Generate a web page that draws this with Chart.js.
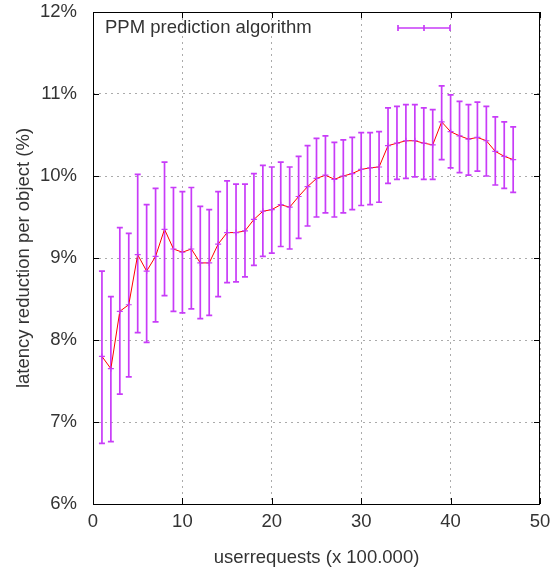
<!DOCTYPE html>
<html>
<head>
<meta charset="utf-8">
<script src="https://cdn.jsdelivr.net/npm/chart.js@4/dist/chart.umd.min.js"></script>
<style>
 html,body{margin:0;padding:0;background:#fff}
 #wrap{width:552px;height:576px}
</style>
</head>
<body>
<div id="wrap"><canvas id="c" width="552" height="576"></canvas></div>
<script>
// userrequests (x 100.000)
const requests=[1,2,3,4,5,6,7,8,9,10,11,12,13,14,15,16,17,18,19,20,21,22,23,24,25,26,27,28,29,30,31,32,33,34,35,36,37,38,39,40,41,42,43,44,45,46,47];
// mean latency reduction (%)
const reduction=[7.80,7.65,8.35,8.43,9.04,8.84,9.02,9.35,9.11,9.07,9.11,8.94,8.94,9.17,9.31,9.31,9.33,9.47,9.57,9.59,9.65,9.62,9.75,9.87,9.97,10.01,9.96,10.00,10.03,10.08,10.10,10.11,10.37,10.40,10.43,10.43,10.40,10.38,10.66,10.54,10.49,10.45,10.47,10.43,10.30,10.24,10.20];
const errLow=[6.74,6.76,7.34,7.55,8.09,7.97,8.22,8.54,8.35,8.33,8.38,8.26,8.30,8.53,8.70,8.71,8.77,8.91,9.02,9.06,9.14,9.11,9.24,9.39,9.50,9.55,9.50,9.55,9.59,9.64,9.65,9.68,9.91,9.96,9.97,9.99,9.96,9.96,10.20,10.10,10.04,10.01,10.06,10.00,9.89,9.85,9.80];
const errHigh=[8.84,8.53,9.37,9.30,10.02,9.65,9.85,10.17,9.86,9.81,9.86,9.63,9.59,9.81,9.94,9.90,9.90,10.03,10.13,10.11,10.17,10.11,10.24,10.37,10.46,10.49,10.41,10.44,10.47,10.53,10.53,10.54,10.83,10.85,10.87,10.87,10.83,10.81,11.10,10.99,10.91,10.87,10.90,10.85,10.72,10.66,10.60];
const yTicks=[6,7,8,9,10,11,12];
const xTicks=[0,10,20,30,40,50];
const seriesName='PPM prediction algorithm';

const FONT='"Liberation Sans", Arial, sans-serif';
const FS=18.5;
const TXT='#333';
const BAR='#c83cf8';

const errorBars={
 id:'errorBars',
 beforeDatasetsDraw(chart){
  const {ctx,scales:{x,y}}=chart;
  ctx.save();ctx.strokeStyle=BAR;ctx.lineWidth=1.7;
  requests.forEach((r,i)=>{
   const px=x.getPixelForValue(r),lo=y.getPixelForValue(errLow[i]),hi=y.getPixelForValue(errHigh[i]);
   ctx.beginPath();
   ctx.moveTo(px,lo);ctx.lineTo(px,hi);
   ctx.moveTo(px-3,lo);ctx.lineTo(px+3,lo);
   ctx.moveTo(px-3,hi);ctx.lineTo(px+3,hi);
   ctx.stroke();
  });
  ctx.restore();
 },
 afterDraw(chart){
  const {ctx,chartArea:a,scales:{x,y}}=chart;
  ctx.save();
  ctx.strokeStyle='#000';ctx.lineWidth=1;
  ctx.strokeRect(a.left+0.5,a.top+0.5,a.right-a.left-1,a.bottom-a.top);
  ctx.beginPath();
  x.ticks.forEach(t=>{const p=Math.round(x.getPixelForValue(t.value))+0.5;ctx.moveTo(p,a.bottom);ctx.lineTo(p,a.bottom-6);ctx.moveTo(p,a.top);ctx.lineTo(p,a.top+6);});
  y.ticks.forEach(t=>{const p=Math.round(y.getPixelForValue(t.value))+0.5;ctx.moveTo(a.left,p);ctx.lineTo(a.left+6,p);ctx.moveTo(a.right,p);ctx.lineTo(a.right-6,p);});
  ctx.stroke();
  // key
  ctx.fillStyle=TXT;ctx.font=FS+'px '+FONT;ctx.textBaseline='middle';ctx.textAlign='left';
  ctx.fillText(seriesName,a.left+12,28);
  ctx.strokeStyle=BAR;ctx.lineWidth=1.7;
  const k0=398,k1=450,km=(k0+k1)/2,ky=28;
  ctx.beginPath();
  ctx.moveTo(k0,ky);ctx.lineTo(k1,ky);
  ctx.moveTo(k0,ky-3);ctx.lineTo(k0,ky+3);
  ctx.moveTo(k1,ky-3);ctx.lineTo(k1,ky+3);
  ctx.moveTo(km,ky-3);ctx.lineTo(km,ky+3);
  ctx.stroke();
  ctx.restore();
 }
};

new Chart(document.getElementById('c'),{
 type:'scatter',
 data:{datasets:[{
  label:seriesName,
  data:requests.map((r,i)=>({x:r,y:reduction[i]})),
  showLine:true,
  borderColor:'#ff0000',borderWidth:1,
  pointStyle:'cross',pointRadius:3,pointBorderColor:BAR,pointBorderWidth:1.2,pointBackgroundColor:BAR
 }]},
 options:{
  responsive:false,animation:false,
  layout:{padding:{top:12,right:12,left:0,bottom:0}},
  plugins:{legend:{display:false},tooltip:{enabled:false}},
  scales:{
   x:{type:'linear',min:0,max:50,
    afterBuildTicks:s=>{s.ticks=xTicks.map(v=>({value:v}));},
    afterFit:s=>{s.height=72;s.paddingLeft=0;s.paddingRight=0;},
    grid:{color:'#ababab',drawTicks:false},
    border:{display:false,dash:[2,4]},
    ticks:{padding:7,color:TXT,font:{size:FS,family:FONT},maxRotation:0},
    title:{display:true,text:'userrequests (x 100.000)',color:TXT,font:{size:FS,family:FONT},padding:{bottom:7}}
   },
   y:{min:6,max:12,
    afterBuildTicks:s=>{s.ticks=yTicks.map(v=>({value:v}));},
    afterFit:s=>{s.width=93;s.paddingTop=0;s.paddingBottom=0;},
    grid:{color:'#ababab',drawTicks:false},
    border:{display:false,dash:[2,4]},
    ticks:{padding:16,color:TXT,font:{size:FS,family:FONT},callback:v=>v+'%'},
    title:{display:true,text:'latency reduction per object (%)',color:TXT,font:{size:FS,family:FONT},padding:{top:13}}
   }
  }
 },
 plugins:[errorBars]
});
</script>
</body>
</html>
